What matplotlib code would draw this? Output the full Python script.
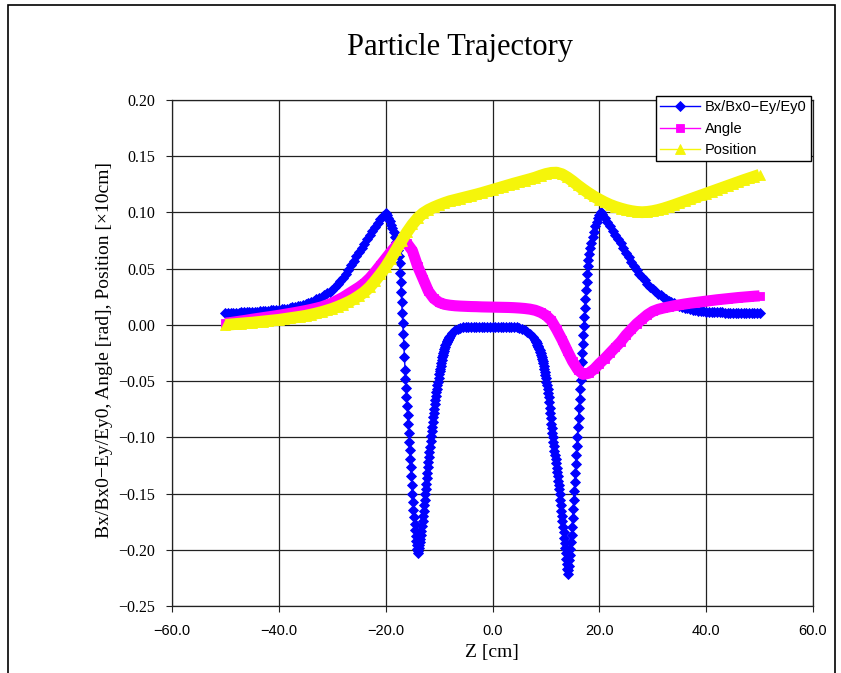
import numpy as np
import matplotlib
matplotlib.use("Agg")
import matplotlib.pyplot as plt
from matplotlib.patches import Rectangle
from matplotlib.ticker import FuncFormatter

# ---------------- data ----------------
# Bx/Bx0-Ey/Ey0 : sampling grid (denser where the curve is steep)
z_bx = np.concatenate([
    np.linspace(-50.0, -20.5, 60),
    np.linspace(-20.0, -17.75, 10),
    np.linspace(-17.6, -14.0, 37),
    np.linspace(-13.9, -8.0, 60),
    np.linspace(-7.5, 7.5, 31),
    np.linspace(8.0, 14.1, 62),
    np.linspace(14.2, 18.0, 39),
    np.linspace(18.25, 20.25, 9),
    np.linspace(20.5, 50.0, 60),
])
bx = [
    # -50 .. -20.5
    0.0105, 0.0106, 0.0107, 0.0108, 0.0109, 0.0110, 0.0111, 0.0112, 0.0113, 0.0114,
    0.0115, 0.0116, 0.0118, 0.0120, 0.0122, 0.0124, 0.0126, 0.0128, 0.0130, 0.0132,
    0.0135, 0.0138, 0.0141, 0.0145, 0.0150, 0.0155, 0.0160, 0.0165, 0.0170, 0.0178,
    0.0186, 0.0195, 0.0205, 0.0215, 0.0226, 0.0238, 0.0250, 0.0264, 0.0280, 0.0296,
    0.0314, 0.0336, 0.0360, 0.0390, 0.0420, 0.0455, 0.0490, 0.0530, 0.0570, 0.0610,
    0.0650, 0.0685, 0.0720, 0.0760, 0.0800, 0.0835, 0.0870, 0.0905, 0.0940, 0.0970,
    # -20 .. -17.75
    0.0995, 0.0975, 0.0950, 0.0920, 0.0890, 0.0860, 0.0825, 0.0785, 0.0740, 0.0700,
    # -17.6 .. -14.0
    0.0670, 0.0615, 0.0550, 0.0465, 0.0380, 0.0290, 0.0200, 0.0110, 0.0020, -0.0080,
    -0.0180, -0.0290, -0.0400, -0.0480, -0.0560, -0.0640, -0.0720, -0.0800, -0.0880, -0.0960,
    -0.1040, -0.1115, -0.1190, -0.1265, -0.1340, -0.1420, -0.1500, -0.1575, -0.1650, -0.1710,
    -0.1770, -0.1825, -0.1880, -0.1920, -0.1960, -0.1995, -0.2025,
    # -13.9 .. -8.0
    -0.2010, -0.1985, -0.1960, -0.1935, -0.1905, -0.1870, -0.1830, -0.1790, -0.1745, -0.1700,
    -0.1652, -0.1604, -0.1556, -0.1508, -0.1460, -0.1412, -0.1364, -0.1316, -0.1268, -0.1220,
    -0.1174, -0.1128, -0.1082, -0.1036, -0.0990, -0.0948, -0.0906, -0.0864, -0.0822, -0.0780,
    -0.0744, -0.0708, -0.0672, -0.0636, -0.0600, -0.0568, -0.0536, -0.0504, -0.0472, -0.0440,
    -0.0414, -0.0388, -0.0362, -0.0336, -0.0310, -0.0290, -0.0270, -0.0250, -0.0230, -0.0210,
    -0.0196, -0.0182, -0.0168, -0.0154, -0.0140, -0.0131, -0.0122, -0.0113, -0.0104, -0.0095,
    # -7.5 .. 7.5
    -0.0068, -0.0048, -0.0035, -0.0027, -0.0022, -0.0019, -0.0017, -0.0016, -0.0015, -0.0015,
    -0.0015, -0.0015, -0.0015, -0.0015, -0.0015, -0.0015, -0.0015, -0.0015, -0.0015, -0.0015,
    -0.0015, -0.0016, -0.0017, -0.0019, -0.0022, -0.0026, -0.0033, -0.0045, -0.0063, -0.0085,
    -0.0110,
    # 8.0 .. 14.1
    -0.0135, -0.0145, -0.0155, -0.0165, -0.0175, -0.0185, -0.0198, -0.0211, -0.0224, -0.0237,
    -0.0250, -0.0268, -0.0286, -0.0304, -0.0322, -0.0340, -0.0366, -0.0392, -0.0418, -0.0444,
    -0.0470, -0.0504, -0.0538, -0.0572, -0.0606, -0.0640, -0.0688, -0.0736, -0.0784, -0.0832,
    -0.0880, -0.0920, -0.0960, -0.1000, -0.1040, -0.1080, -0.1118, -0.1156, -0.1194, -0.1232,
    -0.1270, -0.1308, -0.1346, -0.1384, -0.1422, -0.1460, -0.1508, -0.1556, -0.1604, -0.1652,
    -0.1700, -0.1748, -0.1796, -0.1844, -0.1892, -0.1940, -0.1986, -0.2032, -0.2078, -0.2124,
    -0.2170, -0.2215,
    # 14.2 .. 18.0
    -0.2180, -0.2140, -0.2095, -0.2045, -0.1990, -0.1930, -0.1865, -0.1795,
    -0.1720, -0.1640, -0.1560, -0.1480, -0.1400, -0.1320, -0.1240, -0.1160, -0.1080, -0.0995,
    -0.0910, -0.0825, -0.0740, -0.0655, -0.0570, -0.0490, -0.0410, -0.0330, -0.0250, -0.0170,
    -0.0090, -0.0010, 0.0070, 0.0150, 0.0230, 0.0310, 0.0385, 0.0455, 0.0520, 0.0580,
    0.0630,
    # 18.25 .. 20.25
    0.0680, 0.0725, 0.0780, 0.0830, 0.0875, 0.0915, 0.0950, 0.0980, 0.1005,
    # 20.5 .. 50
    0.0990, 0.0955, 0.0915, 0.0875, 0.0838, 0.0800, 0.0762, 0.0724, 0.0680, 0.0640,
    0.0600, 0.0562, 0.0525, 0.0490, 0.0456, 0.0424, 0.0395, 0.0367, 0.0340, 0.0318,
    0.0298, 0.0279, 0.0262, 0.0245, 0.0230, 0.0216, 0.0203, 0.0191, 0.0180, 0.0170,
    0.0162, 0.0154, 0.0147, 0.0141, 0.0136, 0.0131, 0.0127, 0.0124, 0.0121, 0.0119,
    0.0117, 0.0115, 0.0114, 0.0113, 0.0112, 0.0111, 0.0110, 0.0109, 0.0108, 0.0108,
    0.0107, 0.0107, 0.0106, 0.0106, 0.0105, 0.0105, 0.0105, 0.0104, 0.0104, 0.0104,
]

# Angle and Position : sampled every 1 cm from -50 to 50
z_ap = np.arange(-50, 51, 1)
angle = [
    0.0015, 0.0021, 0.0028, 0.0035, 0.0042, 0.0050, 0.0057, 0.0064, 0.0071, 0.0078,
    0.0085, 0.0093, 0.0101, 0.0109, 0.0118, 0.0127, 0.0137, 0.0148, 0.0160, 0.0177,
    0.0195, 0.0220, 0.0245, 0.0275, 0.0305, 0.0335, 0.0370, 0.0415, 0.0470, 0.0530,
    0.0590, 0.0650, 0.0705, 0.0735, 0.0725, 0.0660, 0.0520, 0.0410, 0.0300, 0.0235,
    0.0200, 0.0183, 0.0175, 0.0170, 0.0167, 0.0165, 0.0163, 0.0162, 0.0160, 0.0159,
    0.0158, 0.0157, 0.0156, 0.0155, 0.0153, 0.0150, 0.0146, 0.0140, 0.0130, 0.0112,
    0.0085, 0.0040, -0.0040, -0.0130, -0.0230, -0.0325, -0.0400, -0.0440, -0.0430, -0.0395,
    -0.0345, -0.0300, -0.0250, -0.0200, -0.0150, -0.0090, -0.0040, 0.0010, 0.0050, 0.0090,
    0.0120, 0.0138, 0.0150, 0.0160, 0.0170, 0.0178, 0.0186, 0.0193, 0.0199, 0.0205,
    0.0211, 0.0217, 0.0223, 0.0228, 0.0233, 0.0238, 0.0243, 0.0247, 0.0251, 0.0255,
    0.0258,
]
position = [
    0.0000, 0.0004, 0.0008, 0.0012, 0.0016, 0.0020, 0.0025, 0.0030, 0.0035, 0.0040,
    0.0045, 0.0052, 0.0059, 0.0066, 0.0073, 0.0081, 0.0091, 0.0102, 0.0114, 0.0128,
    0.0143, 0.0161, 0.0181, 0.0203, 0.0228, 0.0258, 0.0292, 0.0335, 0.0390, 0.0450,
    0.0515, 0.0590, 0.0670, 0.0750, 0.0825, 0.0893, 0.0950, 0.0993, 0.1023, 0.1046,
    0.1066, 0.1084, 0.1100, 0.1112, 0.1124, 0.1136, 0.1148, 0.1160, 0.1173, 0.1187,
    0.1201, 0.1215, 0.1229, 0.1243, 0.1257, 0.1270, 0.1283, 0.1296, 0.1310, 0.1327,
    0.1342, 0.1352, 0.1354, 0.1340, 0.1312, 0.1278, 0.1240, 0.1205, 0.1172, 0.1142,
    0.1115, 0.1090, 0.1068, 0.1050, 0.1035, 0.1022, 0.1012, 0.1005, 0.1002, 0.1005,
    0.1012, 0.1022, 0.1035, 0.1050, 0.1066, 0.1083, 0.1100, 0.1117, 0.1134, 0.1151,
    0.1168, 0.1185, 0.1202, 0.1219, 0.1236, 0.1253, 0.1270, 0.1287, 0.1303, 0.1319,
    0.1335,
]

series_labels = ["Bx/Bx0\u2212Ey/Ey0", "Angle", "Position"]
x_ticks = [-60, -40, -20, 0, 20, 40, 60]
y_ticks = [-0.25, -0.20, -0.15, -0.10, -0.05, 0.00, 0.05, 0.10, 0.15, 0.20]

title = "Particle Trajectory"
xlabel = "Z [cm]"
ylabel = "Bx/Bx0\u2212Ey/Ey0, Angle [rad], Position [\u00d710cm]"

# ---------------- figure ----------------
W, H = 841, 673
fig = plt.figure(figsize=(W / 100, H / 100), dpi=100)
fig.patch.set_facecolor("white")

# chart-area border
fig.patches.append(Rectangle((8 / W, -0.05), (835 - 8) / W, 1.05 - 5 / H,
                             transform=fig.transFigure, fill=False,
                             edgecolor="black", linewidth=1.2, zorder=0))

ax = fig.add_axes([172 / W, 1 - 606 / H, (813 - 172) / W, (606 - 100) / H])

BLUE, MAG, YEL = "#0000FF", "#FF00FF", "#F5F50A"

ax.plot(z_bx, bx, color=BLUE, lw=1.0, marker="D", ms=4.9, mew=0.6,
        mec=BLUE, mfc=BLUE, label=series_labels[0], zorder=3)

ax.plot(z_ap, angle, color=MAG, lw=8.0, solid_joinstyle="round",
        solid_capstyle="butt", zorder=4)
ax.plot(z_ap, angle, color=MAG, lw=1.0, marker="s", ms=6.0, mew=0.6,
        mec=MAG, mfc=MAG, label=series_labels[1], zorder=4.1)

ax.plot(z_ap, position, color=YEL, lw=8.5, solid_joinstyle="round",
        solid_capstyle="butt", zorder=5)
ax.plot(z_ap, position, color=YEL, lw=1.0, marker="^", ms=7.0, mew=0.6,
        mec=YEL, mfc=YEL, label=series_labels[2], zorder=5.1)

ax.set_xlim(-60, 60)
ax.set_ylim(-0.25, 0.20)
ax.set_xticks(x_ticks)
ax.set_yticks(y_ticks)

def fmt_x(v, pos):
    s = f"{v:.1f}"
    return s.replace("-", "\u2212")

def fmt_y(v, pos):
    s = f"{v:.2f}"
    if s == "-0.00":
        s = "0.00"
    return s.replace("-", "\u2212")

ax.xaxis.set_major_formatter(FuncFormatter(fmt_x))
ax.yaxis.set_major_formatter(FuncFormatter(fmt_y))

ax.grid(True, color="#222222", linewidth=0.9)
ax.set_axisbelow(True)
for sp in ax.spines.values():
    sp.set_color("#222222")
    sp.set_linewidth(0.9)

ax.tick_params(axis="both", direction="out", length=4, width=0.8, color="#222222")
ax.tick_params(axis="x", pad=9)
ax.tick_params(axis="y", pad=8)
for lab in ax.get_xticklabels():
    lab.set_fontfamily("Liberation Sans")
    lab.set_fontsize(10.5)
for lab in ax.get_yticklabels():
    lab.set_fontfamily("Liberation Serif")
    lab.set_fontsize(11.5)

fig.text(460 / W, 1 - 48 / H, title, ha="center", va="center",
         fontsize=22, family="Liberation Serif")
fig.text(492 / W, 1 - 653 / H, xlabel, ha="center", va="center",
         fontsize=14, family="Liberation Serif")
fig.text(105 / W, 1 - 350 / H, ylabel, ha="center", va="center",
         rotation=90, fontsize=14, family="Liberation Serif")

leg = ax.legend(loc="upper left", bbox_to_anchor=(656 / W, 1 - 96 / H),
                bbox_transform=fig.transFigure, borderaxespad=0,
                prop={"family": "Liberation Sans", "size": 10.5},
                frameon=True, fancybox=False, framealpha=1, edgecolor="black",
                handlelength=2.7, handletextpad=0.35, labelspacing=0.5,
                borderpad=0.3, numpoints=1)
leg.get_frame().set_linewidth(1.0)
leg.set_zorder(10)

fig.savefig("out.png", dpi=100)
